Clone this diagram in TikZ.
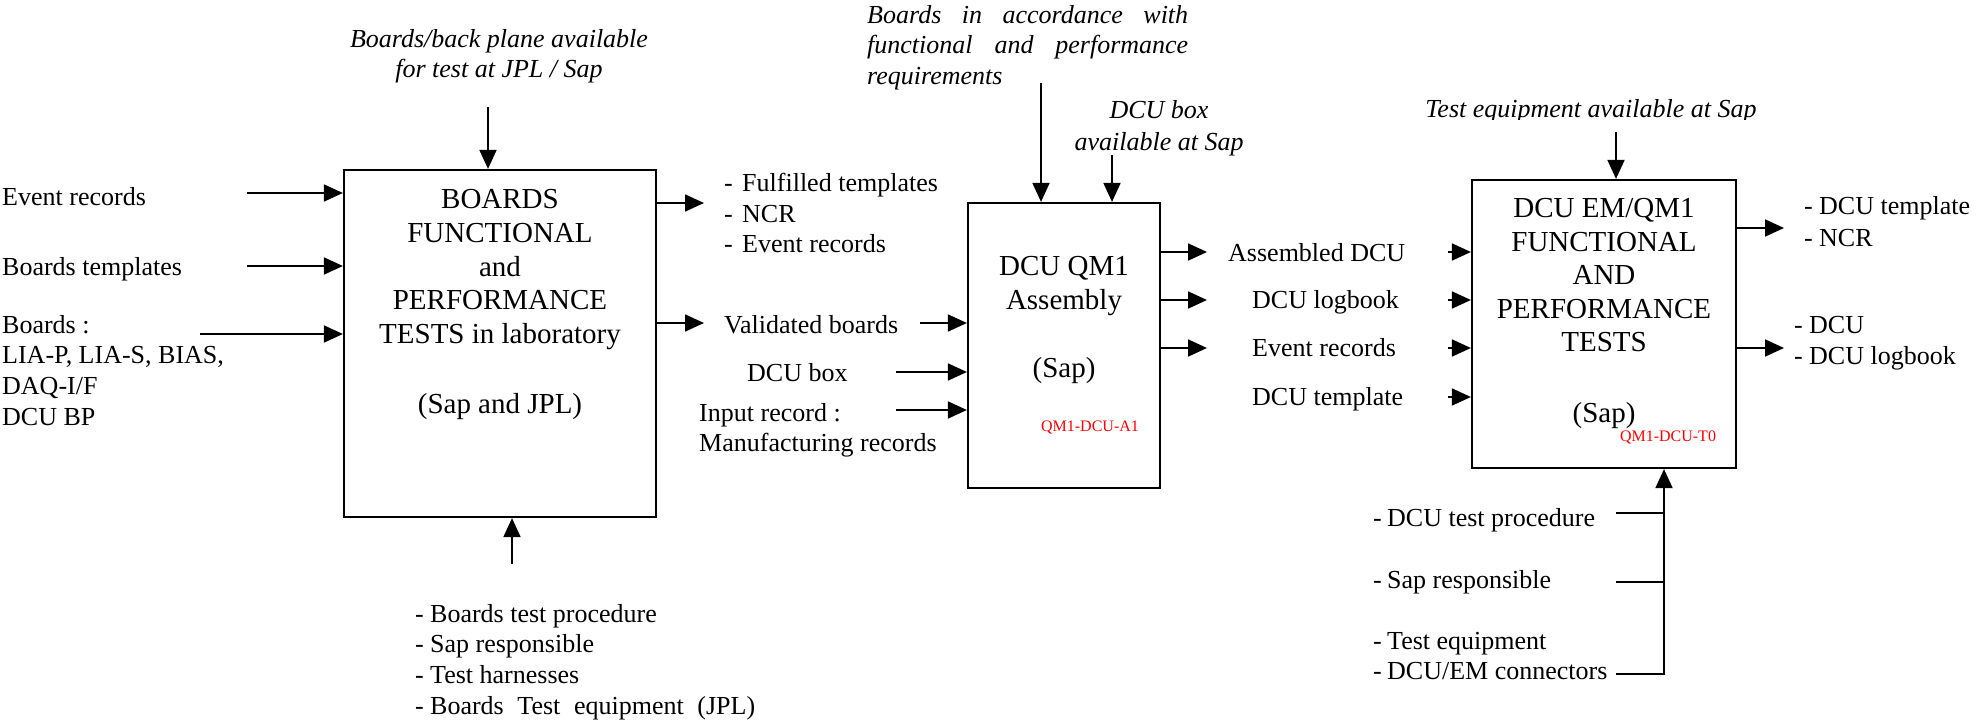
\documentclass[tikz,border=0pt]{standalone}
\usepackage{fontspec}
\setmainfont{Liberation Serif}
\usetikzlibrary{arrows.meta}
\definecolor{codered}{rgb}{1,0,0}
\tikzstyle{procbox} = [draw, line width=2.2pt, rectangle, inner sep=0pt]
\tikzstyle{boxtext} = [align=center, inner sep=0pt, anchor=north,
    font=\fontsize{29}{33.6}\selectfont]
\tikzstyle{txt} = [inner sep=0pt, font=\fontsize{26}{30.6}\selectfont]
\tikzstyle{itxt} = [inner sep=0pt, font=\fontsize{26}{30.6}\selectfont\itshape]
\tikzstyle{refcode} = [inner sep=0pt, text=codered, font=\fontsize{16}{18}\selectfont]
\tikzstyle{flow} = [line width=1.8pt, -{Triangle[length=19pt,width=17pt]}]
\tikzstyle{feed} = [line width=1.8pt]
\newcommand{\dashitem}[2][15pt]{\makebox[#1][l]{-}#2}

\begin{document}
\begin{tikzpicture}[x=1pt,y=-1pt]
\useasboundingbox (0,0) rectangle (1977,722);

\node (box1) [procbox, minimum width=312pt, minimum height=347pt] at (500,343.5) {};
\node (box1txt) [boxtext] at (500,189.4) {BOARDS\\FUNCTIONAL\\and\\PERFORMANCE\\TESTS in laboratory\\[36.4pt](Sap and JPL)};
\node (box2) [procbox, minimum width=192pt, minimum height=285pt] at (1064,345.5) {};
\node (box2txt) [boxtext] at (1064,256) {DCU QM1\\Assembly\\[34.4pt](Sap)};
\node (box2code) [refcode] at (1090,427) {QM1-DCU-A1};
\node (box3) [procbox, minimum width=264pt, minimum height=288pt] at (1604,324) {};
\node (box3txt) [boxtext] at (1604,198) {DCU EM/QM1\\FUNCTIONAL\\AND\\PERFORMANCE\\TESTS\\[37.4pt](Sap)};
\node (box3code) [refcode] at (1668,437) {QM1-DCU-T0};

\node (top1) [itxt, align=center, anchor=north] at (499,29) {Boards/back plane available\\for test at JPL / Sap};
\coordinate (t1) at (488,107);
\draw[flow] (t1) -- (t1 |- box1.north);

\node (evt) [txt, anchor=base west] at (2,205) {Event records};
\node (tmpl) [txt, anchor=base west] at (2,275) {Boards templates};
\node (brd) [txt, align=left, anchor=north west] at (2,315) {Boards :\\LIA-P, LIA-S, BIAS,\\DAQ-I/F\\DCU BP};
\coordinate (evtin) at (247,193);
\coordinate (tmplin) at (247,266);
\coordinate (brdin) at (200,334);
\draw[flow] (evtin) -- (evtin -| box1.west);
\draw[flow] (tmplin) -- (tmplin -| box1.west);
\draw[flow] (brdin) -- (brdin -| box1.west);

\node (ctl1) [txt, align=left, anchor=north west] at (415,604) {\dashitem{Boards test procedure}\\\dashitem{Sap responsible}\\\dashitem{Test harnesses}\\\dashitem{\makebox[325pt][s]{Boards Test equipment (JPL)}}};
\coordinate (b1) at (512,564);
\draw[flow] (b1) -- (b1 |- box1.south);

\node (out1) [txt, align=left, anchor=north west] at (724,173) {\dashitem[18pt]{Fulfilled templates}\\\dashitem[18pt]{NCR}\\\dashitem[18pt]{Event records}};
\coordinate (o1) at (704,203);
\coordinate (o2) at (704,323);
\draw[flow] (o1 -| box1.east) -- (o1);
\draw[flow] (o2 -| box1.east) -- (o2);

\node (valid) [txt, anchor=base west] at (724,333.6) {Validated boards};
\node (dcubox) [txt, anchor=base west] at (747,381.6) {DCU box};
\node (inrec) [txt, align=left, anchor=north west] at (699,403) {Input record :\\Manufacturing records};
\coordinate (validin) at (920,323);
\coordinate (dcuboxin) at (896,372);
\coordinate (inrecin) at (896,410);
\draw[flow] (validin) -- (validin -| box2.west);
\draw[flow] (dcuboxin) -- (dcuboxin -| box2.west);
\draw[flow] (inrecin) -- (inrecin -| box2.west);

\node (top2) [itxt, align=justify, text width=321pt, anchor=north west] at (867,5) {Boards in accordance with functional and performance \mbox{requirements}};
\node (top3) [itxt, align=center, anchor=north, font=\fontsize{26}{32}\selectfont\itshape] at (1159,100) {DCU box\\available at Sap};
\coordinate (t2) at (1041,83);
\coordinate (t3) at (1112,155);
\draw[flow] (t2) -- (t2 |- box2.north);
\draw[flow] (t3) -- (t3 |- box2.north);

\node (asm) [txt, anchor=base west] at (1228,261.6) {Assembled DCU};
\node (logb) [txt, anchor=base west] at (1252,308.6) {DCU logbook};
\node (evt2) [txt, anchor=base west] at (1252,356.6) {Event records};
\node (tmpl2) [txt, anchor=base west] at (1252,405.6) {DCU template};
\foreach \y [count=\i] in {252,300,348}
  \coordinate (a\i) at (1207,\y);
\foreach \i in {1,2,3}
  \draw[flow] (a\i -| box2.east) -- (a\i);
\foreach \y [count=\i] in {252,300,348,397}
  \coordinate (c\i) at (1448,\y);
\foreach \i in {1,...,4}
  \draw[flow] (c\i) -- (c\i -| box3.west);

\begin{scope}
\clip (1400,90) rectangle (1800,119.5);
\node (top4) [itxt, anchor=base] at (1591,118) {Test equipment available at Sap};
\end{scope}
\coordinate (t4) at (1616,132);
\draw[flow] (t4) -- (t4 |- box3.north);

\node (out3a) [txt, align=left, anchor=north west, font=\fontsize{26}{32}\selectfont] at (1804,196) {\dashitem{DCU template}\\\dashitem{NCR}};
\node (out3b) [txt, align=left, anchor=north west, font=\fontsize{26}{31}\selectfont] at (1794,316.4) {\dashitem{DCU}\\\dashitem{DCU logbook}};
\coordinate (o3) at (1784,228);
\coordinate (o4) at (1784,348);
\draw[flow] (o3 -| box3.east) -- (o3);
\draw[flow] (o4 -| box3.east) -- (o4);

\node (ctl3a) [txt, anchor=base west] at (1373,526.6) {\dashitem[14pt]{DCU test procedure}};
\node (ctl3b) [txt, anchor=base west] at (1373,588.6) {\dashitem[14pt]{Sap responsible}};
\node (ctl3c) [txt, align=left, anchor=north west, font=\fontsize{26}{30}\selectfont] at (1373,632) {\dashitem[14pt]{Test equipment}\\\dashitem[14pt]{DCU/EM connectors}};
\coordinate (b3) at (1664,674);
\coordinate (d1) at (1616,513);
\coordinate (d2) at (1616,582);
\coordinate (d3) at (1616,674);
\draw[feed] (d1) -- (d1 -| b3);
\draw[feed] (d2) -- (d2 -| b3);
\draw[flow] (d3) -- (b3) -- (b3 |- box3.south);
\end{tikzpicture}
\end{document}
